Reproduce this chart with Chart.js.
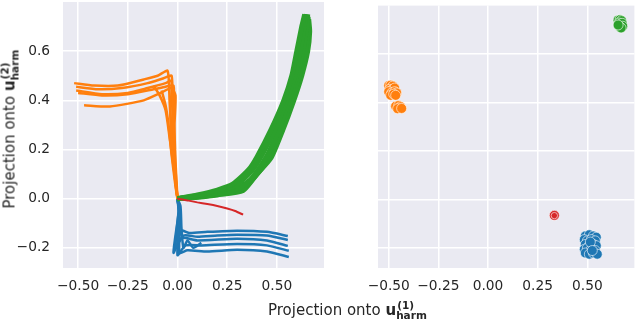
<!DOCTYPE html>
<html>
<head>
<meta charset="utf-8">
<script src="https://cdn.jsdelivr.net/npm/chart.js@4.4.1/dist/chart.umd.min.js"></script>
<style>
  body { margin: 0; background: #fff; }
  #wrap { position: relative; width: 640px; height: 321px; font-family: "DejaVu Sans", sans-serif; color: #262626; }
  #left { position: absolute; left: 0; top: 0; }
  #right { position: absolute; left: 330px; top: 0; }
  .lab { position: absolute; white-space: nowrap; font-size: 15px; line-height: 15px; height: 15px; }
  .lab b { font-weight: bold; }
  .ss { display: inline-block; position: relative; width: 31px; height: 0; vertical-align: baseline; font-weight: bold; font-size: 10.5px; line-height: 10.5px; }
  .ss .sup { position: absolute; left: 1px; top: -15px; }
  .ss .sub { position: absolute; left: 0; top: -5px; }
  #xlab { left: 268px; top: 303px; }
  #ylab { left: 10px; top: 129px; transform: translate(-50%, -50%) rotate(-90deg); }
</style>
</head>
<body>
<div id="wrap">
  <canvas id="left" width="330" height="321"></canvas>
  <canvas id="right" width="310" height="321"></canvas>
  <div class="lab" id="xlab">Projection onto <b>u</b><span class="ss"><span class="sup">(1)</span><span class="sub">harm</span></span></div>
  <div class="lab" id="ylab">Projection onto <b>u</b><span class="ss"><span class="sup">(2)</span><span class="sub">harm</span></span></div>
</div>
<script>
// ticks
const xTicks = [-0.5, -0.25, 0, 0.25, 0.5];
const yTicks = [-0.2, 0, 0.2, 0.4, 0.6];

// colours (tab10)
const cBlue = "#1f77b4", cOrange = "#ff7f0e", cGreen = "#2ca02c", cRed = "#d62728";

// left panel: trajectories
const orangeRuns = [
  [[-0.52,0.47],[-0.42,0.46],[-0.3,0.46],[-0.17,0.485],[-0.1,0.5],[-0.05,0.52],[-0.04,0.4],[-0.03,0.25],[-0.01,0.08],[0,0]],
  [[-0.51,0.455],[-0.4,0.445],[-0.28,0.45],[-0.15,0.47],[-0.07,0.49],[-0.03,0.5],[-0.025,0.38],[-0.02,0.22],[-0.008,0.07],[0,0]],
  [[-0.51,0.44],[-0.38,0.425],[-0.25,0.43],[-0.15,0.45],[-0.06,0.47],[-0.03,0.48],[-0.035,0.35],[-0.025,0.2],[-0.01,0.06],[0,0]],
  [[-0.5,0.43],[-0.38,0.42],[-0.25,0.425],[-0.12,0.445],[-0.06,0.455],[-0.02,0.46],[-0.02,0.35],[-0.015,0.2],[-0.005,0.05],[0,0]],
  [[-0.47,0.38],[-0.34,0.375],[-0.17,0.4],[-0.085,0.43],[-0.03,0.45],[-0.01,0.42],[-0.015,0.3],[-0.01,0.15],[0,0]],
  [[-0.12,0.46],[-0.09,0.42],[-0.06,0.36],[-0.04,0.25],[-0.015,0.1],[0,0]],
  [[-0.08,0.44],[-0.06,0.38],[-0.045,0.3],[-0.03,0.18],[-0.01,0.05],[0,0]]
];
const blueRuns = [
  [[0,0],[0.01,-0.06],[0.0,-0.18],[0.02,-0.13],[0.06,-0.14],[0.15,-0.135],[0.3,-0.13],[0.45,-0.135],[0.555,-0.152]],
  [[0,0],[0.005,-0.05],[-0.01,-0.2],[0.03,-0.15],[0.1,-0.155],[0.2,-0.15],[0.3,-0.147],[0.45,-0.15],[0.555,-0.168]],
  [[0,0],[0.008,-0.04],[-0.02,-0.22],[0.02,-0.16],[0.1,-0.17],[0.3,-0.163],[0.45,-0.17],[0.555,-0.192]],
  [[0,0],[0.01,-0.07],[0.0,-0.23],[0.04,-0.19],[0.12,-0.19],[0.3,-0.184],[0.45,-0.19],[0.56,-0.212]],
  [[0,0],[0.012,-0.08],[0.01,-0.22],[0.05,-0.21],[0.15,-0.215],[0.3,-0.208],[0.45,-0.215],[0.56,-0.237]],
  [[0,0],[0.015,-0.03],[0.02,-0.12],[0.03,-0.2],[0.05,-0.17],[0.08,-0.2],[0.12,-0.18]]
];
const greenRuns = [
  [[0,0],[0.1,0.015],[0.2,0.035],[0.28,0.06],[0.36,0.12],[0.4,0.17],[0.47,0.28],[0.535,0.4],[0.575,0.5],[0.6,0.6],[0.625,0.7],[0.64,0.75]],
  [[0,0],[0.1,0.012],[0.2,0.03],[0.29,0.052],[0.37,0.11],[0.42,0.17],[0.49,0.28],[0.548,0.4],[0.59,0.5],[0.617,0.6],[0.637,0.7],[0.648,0.75]],
  [[0,0],[0.1,0.008],[0.2,0.02],[0.3,0.04],[0.37,0.08],[0.44,0.16],[0.51,0.28],[0.56,0.4],[0.6,0.5],[0.63,0.6],[0.65,0.7],[0.655,0.75]],
  [[0,0],[0.1,0.007],[0.2,0.018],[0.32,0.037],[0.39,0.09],[0.455,0.16],[0.52,0.28],[0.572,0.4],[0.612,0.5],[0.643,0.6],[0.658,0.7],[0.657,0.74]],
  [[0,0],[0.1,0.006],[0.2,0.015],[0.33,0.033],[0.4,0.1],[0.47,0.165],[0.53,0.28],[0.585,0.4],[0.625,0.5],[0.655,0.6],[0.665,0.68],[0.66,0.73]]
];
const redRun = [[0,0],[0.05,-0.007],[0.1,-0.015],[0.15,-0.022],[0.2,-0.03],[0.25,-0.04],[0.29,-0.05],[0.33,-0.065]];

// right panel: end points
const orangePts = [[-0.5,0.47],[-0.49,0.472],[-0.48,0.468],[-0.495,0.455],[-0.48,0.455],[-0.47,0.46],[-0.5,0.445],[-0.485,0.44],[-0.47,0.445],[-0.46,0.44],[-0.49,0.43],[-0.475,0.435],[-0.465,0.43],[-0.465,0.385],[-0.45,0.388],[-0.44,0.383],[-0.455,0.375],[-0.435,0.376]];
const greenPts = [[0.655,0.74],[0.665,0.742],[0.672,0.738],[0.66,0.728],[0.668,0.722],[0.675,0.727],[0.678,0.715],[0.662,0.713],[0.67,0.708],[0.655,0.72]];
const redPts = [[0.334,-0.065],[0.334,-0.066]];
const bluePts = [[0.49,-0.15],[0.51,-0.145],[0.53,-0.15],[0.545,-0.155],[0.485,-0.165],[0.5,-0.17],[0.52,-0.165],[0.54,-0.17],[0.49,-0.185],[0.51,-0.19],[0.53,-0.185],[0.545,-0.19],[0.485,-0.205],[0.5,-0.2],[0.52,-0.205],[0.54,-0.21],[0.49,-0.22],[0.51,-0.225],[0.53,-0.22],[0.55,-0.225],[0.515,-0.175],[0.525,-0.21]];

Chart.defaults.font.family = "DejaVu Sans";
Chart.defaults.font.size = 13.75;
Chart.defaults.color = "#262626";

const bgPlugin = {
  id: "bg",
  beforeDraw(chart) {
    const a = chart.chartArea, ctx = chart.ctx;
    ctx.save();
    ctx.fillStyle = "#EAEAF2";
    ctx.fillRect(a.left, a.top, a.right - a.left, a.bottom - a.top);
    ctx.restore();
  }
};

const toXY = arr => arr.map(p => ({ x: p[0], y: p[1] }));
const minus = s => s.replace("-", "\u2212");

function makeScales(xmin, xmax, yWidth, showY) {
  return {
    x: {
      type: "linear", min: xmin, max: xmax,
      afterBuildTicks: s => { s.ticks = xTicks.map(v => ({ value: v })); },
      afterFit: s => { s.height = 53; s.paddingLeft = 0; s.paddingRight = 0; },
      ticks: { padding: 10, callback: v => minus(v.toFixed(2)) },
      grid: { color: "#fff", lineWidth: 1.5, drawTicks: false },
      border: { display: false }
    },
    y: {
      type: "linear", min: -0.282, max: 0.8,
      afterBuildTicks: s => { s.ticks = yTicks.map(v => ({ value: v })); },
      afterFit: s => { s.width = yWidth; s.paddingTop = 0; s.paddingBottom = 0; },
      ticks: { display: showY, padding: 13, callback: v => minus(v.toFixed(1)) },
      grid: { color: "#fff", lineWidth: 1.5, drawTicks: false },
      border: { display: false }
    }
  };
}

const baseOpts = {
  responsive: false, animation: false, devicePixelRatio: 1,
  plugins: { legend: { display: false }, tooltip: { enabled: false } }
};

function runSets(runs, color, order, width) {
  return runs.map(r => ({
    data: toXY(r), showLine: true, borderColor: color, borderWidth: width,
    pointRadius: 0, tension: 0.2, order: order
  }));
}

const leftSets = [].concat(
  runSets(blueRuns, cBlue, 4, 2.5),
  runSets(orangeRuns, cOrange, 3, 2.5),
  runSets(greenRuns, cGreen, 2, 5),
  runSets([redRun], cRed, 1, 2)
);

new Chart(document.getElementById("left"), {
  type: "scatter",
  data: { datasets: leftSets },
  options: Object.assign({}, baseOpts, {
    layout: { padding: { top: 2, right: 6, left: 0, bottom: 0 } },
    scales: makeScales(-0.576, 0.737, 63, true)
  }),
  plugins: [bgPlugin]
});

function ptSet(pts, color, radius) {
  return { data: toXY(pts), backgroundColor: color, borderColor: "#fff", borderWidth: 0.6, pointRadius: radius };
}

new Chart(document.getElementById("right"), {
  type: "scatter",
  data: { datasets: [ptSet(bluePts, cBlue, 5), ptSet(orangePts, cOrange, 5), ptSet(greenPts, cGreen, 5), ptSet(redPts, cRed, [5, 3.2])] },
  options: Object.assign({}, baseOpts, {
    layout: { padding: { top: 2, right: 1, left: 0, bottom: 0 } },
    scales: makeScales(-0.554, 0.737, 48, false)
  }),
  plugins: [bgPlugin]
});
</script>
</body>
</html>
